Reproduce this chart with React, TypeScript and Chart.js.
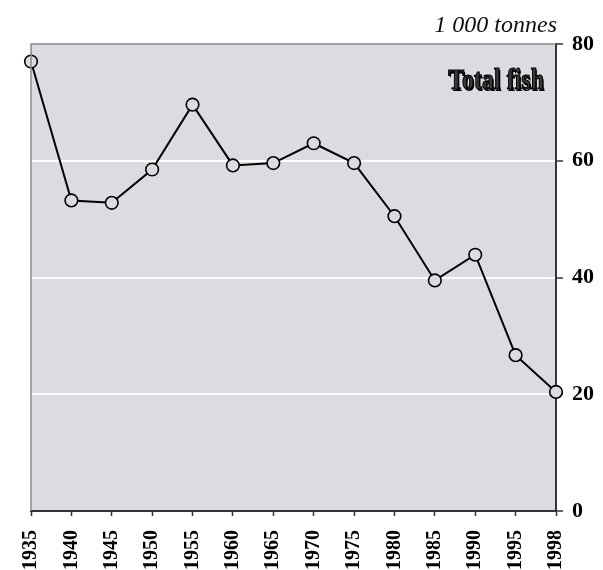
import React, { useEffect, useRef } from "react";
import { Chart, registerables } from "chart.js";

Chart.register(...registerables);

const years = ["1935", "1940", "1945", "1950", "1955", "1960", "1965", "1970", "1975", "1980", "1985", "1990", "1995", "1998"];
const totalFish = [77.0, 53.2, 52.8, 58.5, 69.6, 59.2, 59.6, 63.0, 59.6, 50.5, 39.5, 43.9, 26.7, 20.4];
const yTicks = [0, 20, 40, 60, 80];
const unitLabel = "1 000 tonnes";
const seriesTitle = "Total fish";

const BG = "#dbdbe1";
const SERIF = "'Liberation Serif', 'Times New Roman', serif";

export default function App() {
  const ref = useRef<HTMLCanvasElement>(null);
  useEffect(() => {
    const canvas = ref.current!;
    const decor = {
      id: "decor",
      beforeDraw(chart: any) {
        const { ctx, chartArea: a } = chart;
        ctx.save();
        ctx.fillStyle = BG;
        ctx.fillRect(a.left, a.top, a.right - a.left, a.bottom - a.top);
        ctx.restore();
      },
      afterDatasetsDraw(chart: any) {
        const { ctx, chartArea: a } = chart;
        ctx.save();
        ctx.strokeStyle = "#8a8a8a";
        ctx.lineWidth = 1.5;
        ctx.beginPath();
        ctx.moveTo(a.left, a.bottom);
        ctx.lineTo(a.left, a.top);
        ctx.lineTo(a.right, a.top);
        ctx.stroke();
        ctx.restore();
      },
      afterDraw(chart: any) {
        const { ctx, chartArea: a } = chart;
        ctx.save();
        ctx.font = `italic 24px ${SERIF}`;
        ctx.fillStyle = "#111";
        ctx.textAlign = "right";
        ctx.textBaseline = "alphabetic";
        ctx.fillText(unitLabel, a.right + 1, 32);
        // title
        ctx.font = `bold 30px ${SERIF}`;
        ctx.textAlign = "right";
        const tx = a.right - 12;
        const ty = a.top + 45;
        ctx.save();
        ctx.translate(tx, ty);
        ctx.scale(0.8, 1);
        ctx.fillStyle = "#000";
        ctx.fillText(seriesTitle, 1.5, 1.5);
        ctx.fillStyle = "#3a3a3a";
        ctx.fillText(seriesTitle, 0, 0);
        ctx.strokeStyle = "#000";
        ctx.lineWidth = 1.2;
        ctx.strokeText(seriesTitle, 0, 0);
        ctx.restore();
        ctx.restore();
      },
    };
    const chart = new Chart(canvas, {
      type: "line",
      data: {
        labels: years,
        datasets: [
          {
            data: totalFish,
            borderColor: "#000",
            borderWidth: 2,
            pointRadius: 6.3,
            pointBackgroundColor: BG,
            pointBorderColor: "#000",
            pointBorderWidth: 1.6,
            tension: 0,
            clip: false as any,
          },
        ],
      },
      options: {
        animation: false,
        responsive: false,
        events: [],
        layout: { padding: { left: 31, top: 44, right: 0, bottom: 0 } },
        plugins: { legend: { display: false }, tooltip: { enabled: false } },
        scales: {
          x: {
            type: "category",
            offset: false,
            grid: {
              drawOnChartArea: false,
              drawTicks: true,
              tickLength: 5,
              tickColor: "#333",
              tickWidth: 1.5,
            },
            border: { color: "#333", width: 2 },
            ticks: {
              autoSkip: false,
              minRotation: 90,
              maxRotation: 90,
              padding: 14,
              color: "#000",
              font: { family: SERIF, size: 20, weight: "bold" },
            },
            afterFit(scale: any) {
              scale.height = 59;
            },
          },
          y: {
            position: "right",
            min: 0,
            max: 80,
            afterBuildTicks(scale: any) {
              scale.ticks = yTicks.map((v) => ({ value: v }));
            },
            grid: {
              color: (c: any) => (c.tick && (c.tick.value === 0 || c.tick.value === 80) ? "rgba(0,0,0,0)" : "#ffffff"),
              lineWidth: 2,
              drawTicks: true,
              tickLength: 7,
              tickColor: "#333",
              tickWidth: 1.5,
            },
            border: { color: "#333", width: 2 },
            ticks: {
              padding: 9,
              color: "#000",
              font: { family: SERIF, size: 22, weight: "bold" },
            },
            afterFit(scale: any) {
              scale.width = 47;
            },
          },
        },
      } as any,
      plugins: [decor],
    });
    return () => chart.destroy();
  }, []);
  return (
    <div style={{ position: "fixed", left: 0, top: 0, width: 603, height: 570, background: "#fff" }}>
      <canvas ref={ref} width={603} height={570} style={{ display: "block" }} />
    </div>
  );
}
